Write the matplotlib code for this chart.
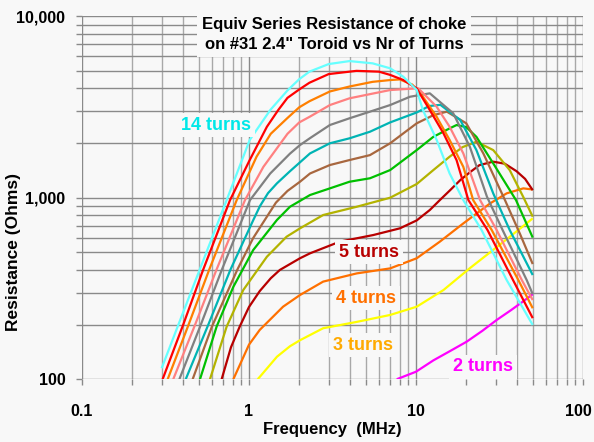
import numpy as np
import matplotlib.pyplot as plt
from matplotlib.ticker import LogLocator, NullFormatter, FixedLocator, FixedFormatter
from matplotlib.transforms import ScaledTranslation

# Equiv series resistance of choke on #31 2.4" toroid, by number of turns
# frequency in MHz, resistance in ohms
f2 = [7.67, 10.0, 12.7, 16.0, 20.1, 25.0, 30.4, 37.0, 43.7, 50]
r2 = [100, 110, 127, 143, 161, 185, 212, 240, 268, 294]

f3 = [1.127, 1.16, 1.47, 1.76, 2.02, 2.78, 4.42, 7.0, 10.1, 14.6, 21.0, 30.4, 43.7, 50]
r3 = [100, 103, 133, 152, 164, 191, 207, 226, 251, 310, 409, 534, 696, 770]

f4 = [0.806, 1.0, 1.16, 1.6, 2.02, 2.78, 4.42, 7.0, 10.1, 13.9, 19.2, 27.8, 34.9, 43.9, 50]
r4 = [100, 155, 187, 251, 291, 345, 383, 408, 464, 573, 722, 931, 1057, 1126, 1110]

f5 = [0.686, 0.78, 0.88, 1.0, 1.16, 1.35, 1.53, 2.02, 2.32, 3.5, 5.55, 8.0, 10.1, 12.1, 13.9,
      16.0, 18.4, 21.0, 24.0, 29.0, 34.0, 40.0, 45.0, 50]
r5 = [100, 150, 195, 250, 306, 360, 400, 464, 494, 573, 623, 678, 750, 856, 971,
      1100, 1250, 1380, 1513, 1580, 1540, 1400, 1270, 1100]

f6 = [0.584, 0.735, 0.924, 1.28, 1.68, 2.02, 2.78, 4.42, 7.0, 10.1, 12.7, 15.9, 19.0, 23.0, 29.0, 36.4, 43.8, 50]
r6 = [100, 195, 310, 473, 610, 678, 803, 892, 1000, 1190, 1420, 1683, 1900, 2035, 1830, 1420, 1013, 786]

f7 = [0.509, 0.64, 0.806, 1.06, 1.47, 1.76, 2.32, 3.05, 4.0, 5.3, 7.0, 10.1, 12.7, 15.9, 17.5, 20.0, 23.0, 29.0, 39.7, 50]
r7 = [100, 195, 323, 515, 754, 892, 1035, 1126, 1225, 1280, 1420, 1830, 2165, 2410, 2515, 2450, 2165, 1546, 970, 603]

f8 = [0.46, 0.6, 0.85, 1.06, 1.45, 1.7, 2.02, 2.32, 3.05, 4.0, 5.3, 7.0, 10.1, 12.7, 15.3, 20.0, 25.3, 34.1, 42.0, 50]
r8 = [100, 195, 400, 600, 940, 1090, 1225, 1360, 1514, 1613, 1717, 1995, 2570, 2850, 2980, 2570, 1755, 970, 630, 431]

f9 = [0.418, 0.571, 0.773, 1.06, 1.164, 1.3, 1.47, 1.76, 2.32, 3.05, 4.0, 5.3, 7.0, 10.1, 12.0, 14.0, 18.4, 23.0, 29.0, 36.4, 50]
r9 = [100, 200, 400, 752, 900, 1060, 1200, 1400, 1755, 1995, 2125, 2310, 2600, 2950, 3200, 3250, 2680, 1830, 1057, 664, 375]

f10 = [0.383, 0.515, 0.687, 1.014, 1.34, 1.76, 2.02, 2.32, 3.05, 4.0, 5.3, 7.0, 9.2, 12.1, 16.7, 21.0, 26.6, 33.0, 46.0, 50]
r10 = [100, 200, 400, 970, 1360, 1750, 1950, 2130, 2515, 2740, 2980, 3240, 3600, 3760, 2920, 1910, 1013, 664, 352, 294]

f11 = [0.352, 0.476, 0.638, 0.946, 1.22, 1.7, 2.0, 2.32, 3.05, 4.0, 7.0, 10.3, 13.3, 15.9, 19.2, 24.2, 30.4, 43.0, 50]
r11 = [100, 200, 400, 970, 1480, 2250, 2600, 2800, 3240, 3530, 3920, 4010, 3170, 2460, 1755, 970, 664, 352, 273]

f12 = [0.326, 0.435, 0.577, 0.844, 1.11, 1.35, 1.7, 2.0, 2.3, 3.05, 4.0, 5.5, 7.0, 8.0, 9.5, 11.0, 13.3, 15.9,
       19.2, 22.0, 28.4, 41.0, 50]
r12 = [100, 200, 400, 970, 1683, 2250, 2750, 3150, 3400, 3850, 4100, 4350, 4450, 4485, 4200, 3600, 2790, 2080,
       1480, 970, 664, 352, 246]

f13 = [0.304, 0.404, 0.531, 0.77, 1.01, 1.28, 1.5, 1.7, 2.0, 2.3, 3.0, 4.4, 6.0, 7.0, 8.4, 10.1, 12.1, 14.6,
       17.5, 20.6, 26.8, 38.1, 50]
r13 = [100, 200, 400, 970, 1613, 2460, 3050, 3550, 3950, 4300, 4800, 5000, 4950, 4750, 4450, 4000, 3040, 2265,
       1610, 970, 664, 352, 217]

f14 = [0.3, 0.378, 0.506, 0.735, 1.01, 1.34, 1.7, 2.0, 2.3, 3.0, 4.0, 5.5, 7.0, 8.4, 10.1, 11.0, 13.3, 15.9,
       19.2, 24.7, 34.9, 50]
r14 = [115, 200, 400, 971, 2080, 3040, 3900, 4500, 4950, 5450, 5660, 5500, 5165, 4640, 3920, 3040, 2080, 1360,
       970, 664, 352, 199]

turns = [2, 3, 4, 5, 6, 7, 8, 9, 10, 11, 12, 13, 14]
freqs = [f2, f3, f4, f5, f6, f7, f8, f9, f10, f11, f12, f13, f14]
res = [r2, r3, r4, r5, r6, r7, r8, r9, r10, r11, r12, r13, r14]
colors = ['#ff00ff', '#ffff00', '#ff7000', '#b80000', '#b3b300', '#00c000', '#a8673f',
          '#00b4b4', '#808080', '#ff8080', '#ff7f00', '#ff0000', '#66ffff']

# labels that sit next to some of the curves
label_text = ['14 turns', '5 turns', '4 turns', '3 turns', '2 turns']
label_x = [0.634, 5.23, 5.02, 4.82, 25.2]
label_y = [2513, 502, 280, 154, 117]
label_col = ['#00e8e8', '#b80000', '#ff7000', '#ffaa00', '#ff00ff']

plt.rcParams['font.family'] = ['Liberation Sans', 'DejaVu Sans']
plt.rcParams['font.weight'] = 'bold'

bg = '#f8f8f8'
fig = plt.figure(figsize=(5.94, 4.42), dpi=100, facecolor=bg)
ax = fig.add_axes([0.138, 0.142, 0.8435, 0.8213])
ax.set_facecolor(bg)

for t, fx, ry, c in zip(turns, freqs, res, colors):
    ax.plot(fx, ry, color=c, lw=1.6, solid_capstyle='butt', zorder=3)

ax.set_xscale('log')
ax.set_yscale('log')
ax.set_xlim(0.1, 100)
ax.set_ylim(100, 10000)

ax.xaxis.set_major_locator(FixedLocator([0.1, 1, 10, 100]))
ax.xaxis.set_major_formatter(FixedFormatter(['0.1', '1', '10', '100']))
ax.yaxis.set_major_locator(FixedLocator([100, 1000, 10000]))
ax.yaxis.set_major_formatter(FixedFormatter(['100', '1,000', '10,000']))
ax.xaxis.set_minor_locator(LogLocator(base=10, subs=np.arange(2, 10)))
ax.yaxis.set_minor_locator(LogLocator(base=10, subs=np.arange(2, 10)))
ax.xaxis.set_minor_formatter(NullFormatter())
ax.yaxis.set_minor_formatter(NullFormatter())

ax.grid(True, which='both', axis='y', color='#8a8a8a', lw=1.0, zorder=1)
ax.grid(True, which='major', axis='x', color='#8a8a8a', lw=1.0, zorder=1)
ax.grid(True, which='minor', axis='x', color='#a8a8a8', lw=1.0, zorder=1)
ax.tick_params(which='both', length=4, width=1, color='#8a8a8a', labelsize=11.5)
ax.tick_params(axis='x', which='major', pad=14)
ax.tick_params(axis='y', which='major', pad=8)
for s in ax.spines.values():
    s.set_visible(False)

# last x label sits right at the figure edge: right-align it so it isn't clipped
last = ax.get_xticklabels()[-1]
last.set_ha('right')
last.set_transform(last.get_transform() + ScaledTranslation(0.09, 0, fig.dpi_scale_trans))

ax.set_xlabel('Frequency  (MHz)', fontsize=12, fontweight='bold', labelpad=2)
ax.set_ylabel('Resistance (Ohms)', fontsize=12.5, fontweight='bold')
ax.yaxis.set_label_coords(-0.122, 0.35)

ax.text(0.503, 0.998, 'Equiv Series Resistance of choke\non #31 2.4" Toroid vs Nr of Turns',
        transform=ax.transAxes, ha='center', va='top', fontsize=12, fontweight='bold',
        linespacing=1.45, zorder=5,
        bbox=dict(boxstyle='square,pad=0.3', fc=bg, ec='none'))

for txt, x, y, c in zip(label_text, label_x, label_y, label_col):
    ax.text(x, y, txt, color=c, ha='center', va='center', fontsize=13, fontweight='bold',
            zorder=5, bbox=dict(boxstyle='square,pad=0.2', fc=bg, ec='none'))

fig.savefig('out.png', dpi=100, facecolor=fig.get_facecolor())
